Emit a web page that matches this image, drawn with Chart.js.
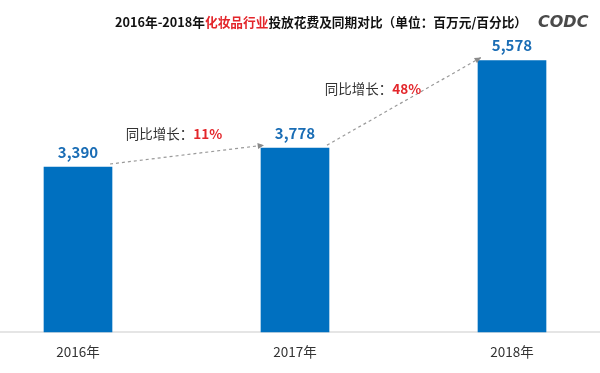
<!DOCTYPE html>
<html>
<head>
<meta charset="utf-8">
<script src="https://cdn.jsdelivr.net/npm/chart.js@4"></script>
<style>
  html, body { margin: 0; padding: 0; background: #fff; }
  #wrap { width: 600px; height: 373px; position: relative; }
</style>
</head>
<body>
<div id="wrap"><canvas id="chart" width="600" height="373"></canvas></div>
<script>
// ========================================
// DADOS
// ========================================
const anos = ['2016年', '2017年', '2018年'];
const gastos = [3390, 3778, 5578];        // 百万元
const crescimento = [11, 48];             // % 同比增长
const escalaMax = 6000;

const titulo = ['2016年-2018年', '化妆品行业', '投放花费及同期对比（单位：百万元/百分比）'];
const rotuloCrescimento = '同比增长：';

const FONTE = '"Noto Sans CJK SC", "Noto Sans", sans-serif';
const AZUL = '#0070c0';

// ========================================
// PLUGIN: linha base, título, rótulos e setas
// ========================================
const extras = {
    id: 'extras',
    beforeDatasetsDraw(chart) {
        // linha de base em toda a largura
        const ctx = chart.ctx;
        const y0 = chart.scales.y.getPixelForValue(0);
        ctx.save();
        ctx.strokeStyle = '#dcdcdc';
        ctx.lineWidth = 1.5;
        ctx.beginPath();
        ctx.moveTo(0, y0);
        ctx.lineTo(chart.width, y0);
        ctx.stroke();
        ctx.restore();
    },
    afterDatasetsDraw(chart) {
        const ctx = chart.ctx;
        const bars = chart.getDatasetMeta(0).data;

        ctx.save();

        // rótulos de valor
        ctx.font = 'bold 15px ' + FONTE;
        ctx.fillStyle = '#1a6db5';
        ctx.textAlign = 'center';
        ctx.textBaseline = 'middle';
        bars.forEach((bar, i) => {
            ctx.fillText(gastos[i].toLocaleString('en-US'), bar.x, bar.y - 15);
        });

        // setas tracejadas + texto de crescimento
        for (let i = 0; i < crescimento.length; i++) {
            const a = bars[i], b = bars[i + 1];
            const x1 = a.x + a.width / 2 - 2, y1 = a.y - 3;
            const x2 = b.x - b.width / 2 + 3, y2 = b.y - 3;

            ctx.strokeStyle = '#9a9a9a';
            ctx.lineWidth = 1.2;
            ctx.setLineDash([3, 3]);
            ctx.beginPath();
            ctx.moveTo(x1, y1);
            ctx.lineTo(x2, y2);
            ctx.stroke();
            ctx.setLineDash([]);

            const ang = Math.atan2(y2 - y1, x2 - x1);
            ctx.fillStyle = '#8a8a8a';
            ctx.beginPath();
            ctx.moveTo(x2, y2);
            ctx.lineTo(x2 - 7 * Math.cos(ang - 0.45), y2 - 7 * Math.sin(ang - 0.45));
            ctx.lineTo(x2 - 7 * Math.cos(ang + 0.45), y2 - 7 * Math.sin(ang + 0.45));
            ctx.closePath();
            ctx.fill();

            // texto
            const mx = (x1 + x2) / 2, my = (y1 + y2) / 2;
            const cx = i === 0 ? mx - 13 : mx - 31;
            const cy = i === 0 ? my - 21 : my - 12;
            ctx.font = '13.5px ' + FONTE;
            const w1 = ctx.measureText(rotuloCrescimento).width;
            ctx.font = 'bold 13.5px ' + FONTE;
            const pct = crescimento[i] + '%';
            const w2 = ctx.measureText(pct).width;
            const x0 = cx - (w1 + w2) / 2;
            ctx.textAlign = 'left';
            ctx.font = '13.5px ' + FONTE;
            ctx.fillStyle = '#333';
            ctx.fillText(rotuloCrescimento, x0, cy);
            ctx.font = 'bold 13.5px ' + FONTE;
            ctx.fillStyle = '#e3262b';
            ctx.fillText(pct, x0 + w1, cy);
            ctx.textAlign = 'center';
        }

        // título
        ctx.textAlign = 'left';
        ctx.font = 'bold 12.7px ' + FONTE;
        let x = 115;
        const cores = ['#111', '#e3262b', '#111'];
        titulo.forEach((t, i) => {
            ctx.fillStyle = cores[i];
            ctx.fillText(t, x, 22);
            x += ctx.measureText(t).width;
        });

        // logo
        ctx.font = 'italic bold 16px "DejaVu Sans", sans-serif';
        ctx.fillStyle = '#4a4a4a';
        ctx.fillText('CODC', 538, 23);

        ctx.restore();
    }
};

// ========================================
// GRÁFICO
// ========================================
new Chart(document.getElementById('chart'), {
    type: 'bar',
    data: {
        labels: anos,
        datasets: [{
            data: gastos,
            backgroundColor: AZUL,
            borderWidth: 0,
            barThickness: 68,
            clip: false
        }]
    },
    options: {
        responsive: false,
        animation: false,
        layout: {
            padding: { left: 78, right: 88, top: 40, bottom: 13 }
        },
        scales: {
            x: {
                offset: false,
                afterFit: s => { s.height = 28; },
                grid: { display: false, drawTicks: false },
                border: { display: false },
                ticks: {
                    padding: 12,
                    color: '#333',
                    font: { size: 13.5, family: FONTE }
                }
            },
            y: {
                display: false,
                min: 0,
                max: escalaMax
            }
        },
        plugins: {
            legend: { display: false },
            tooltip: { enabled: false }
        }
    },
    plugins: [extras]
});
</script>
</body>
</html>
